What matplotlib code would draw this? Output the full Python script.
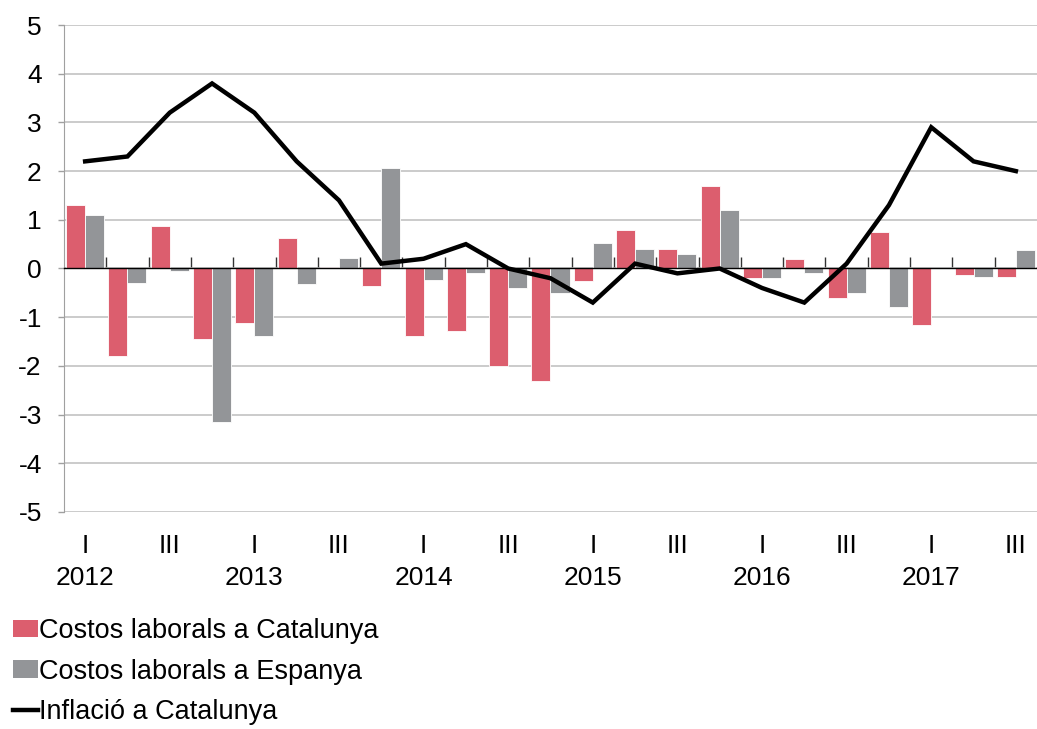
import numpy as np
import matplotlib
matplotlib.use("Agg")
import matplotlib.pyplot as plt
import matplotlib.transforms as mtransforms
from matplotlib.patches import Patch
from matplotlib.lines import Line2D

plt.rcParams['font.family'] = ['Liberation Sans', 'DejaVu Sans']
plt.rcParams['axes.unicode_minus'] = False

# data: quarterly values 2012 Q1 .. 2017 Q3
years = ['2012', '2013', '2014', '2015', '2016', '2017']
quarter_names = ['I', 'II', 'III', 'IV']
costos_cat = [1.3, -1.8, 0.87, -1.45, -1.11, 0.62, 0.03, -0.36,
              -1.39, -1.29, -2.0, -2.31, -0.25, 0.8, 0.4, 1.7,
              -0.19, 0.2, -0.6, 0.75, -1.16, -0.14, -0.17]
costos_esp = [1.1, -0.29, -0.05, -3.16, -1.38, -0.32, 0.21, 2.06,
              -0.23, -0.1, -0.4, -0.51, 0.53, 0.4, 0.3, 1.2,
              -0.2, -0.1, -0.5, -0.8, 0.0, -0.17, 0.38]
inflacio = [2.2, 2.3, 3.2, 3.8, 3.2, 2.2, 1.4, 0.1,
            0.2, 0.5, 0.0, -0.2, -0.7, 0.1, -0.1, 0.0,
            -0.4, -0.7, 0.1, 1.3, 2.9, 2.2, 2.0]

red = '#DC5E6E'
grey = '#939598'
fs = 19

n = len(inflacio)
x = np.arange(n)

fig = plt.figure(figsize=(10.37, 7.29), dpi=100)
ax = fig.add_axes([0.0617, 0.2977, 0.9383, 0.668])

w = 0.45
ax.bar(x - w / 2, costos_cat, width=w, color=red, edgecolor='white', linewidth=0.6, zorder=1)
ax.bar(x + w / 2, costos_esp, width=w, color=grey, edgecolor='white', linewidth=0.6, zorder=1)
ax.plot(x, inflacio, color='black', linewidth=3.2, zorder=4, solid_joinstyle='miter')

ax.set_xlim(-0.5, n - 0.5)
ax.set_ylim(-5, 5)
ax.set_yticks(np.arange(-5, 6, 1))
ax.yaxis.grid(True, color='#BDBDBD', linewidth=1.1, zorder=0)
ax.set_axisbelow(True)

for s in ['top', 'right']:
    ax.spines[s].set_visible(False)
ax.spines['left'].set_color('#A0A0A0')
ax.spines['bottom'].set_position(('data', 0))
ax.spines['bottom'].set_color('black')
ax.spines['bottom'].set_linewidth(1.0)
ax.spines['bottom'].set_zorder(3)

ax.set_xticks(np.arange(0.5, n - 0.5, 1))
ax.tick_params(axis='x', direction='in', length=8, width=1, color='#333333', labelbottom=False)
ax.tick_params(axis='y', direction='out', length=4, width=1, color='#A0A0A0', labelsize=fs, pad=12)

# quarter and year labels under the plot
trans = mtransforms.blended_transform_factory(ax.transData, fig.transFigure)
for i in range(n):
    q = quarter_names[i % 4]
    if q in ('I', 'III'):
        ax.text(x[i], 1 - 546 / 729, q, transform=trans, ha='center', va='center', fontsize=fs)
    if q == 'I':
        ax.text(x[i], 1 - 578 / 729, years[i // 4], transform=trans, ha='center', va='center', fontsize=fs)

handles = [Patch(facecolor=red, edgecolor='none'),
           Patch(facecolor=grey, edgecolor='none'),
           Line2D([0], [0], color='black', linewidth=3.2)]
labels = ['Costos laborals a Catalunya', 'Costos laborals a Espanya', 'Inflació a Catalunya']
fig.legend(handles, labels, loc='upper left', bbox_to_anchor=(-0.003, 0.175), frameon=False,
           fontsize=fs + 0.5, handlelength=0.9, handleheight=0.6, handletextpad=0.05,
           labelspacing=0.55, borderaxespad=0.2)

fig.savefig('out.png', dpi=100)
